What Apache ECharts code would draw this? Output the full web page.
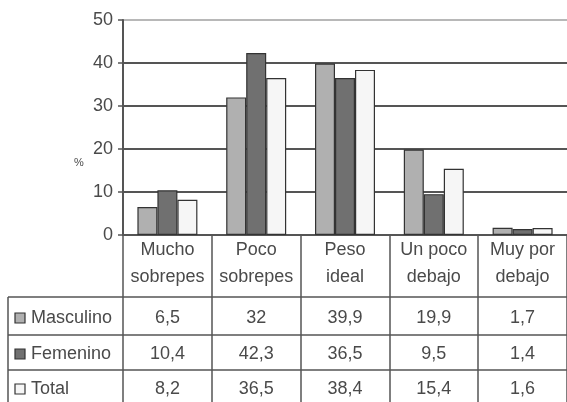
<!DOCTYPE html>
<html>
<head>
<meta charset="utf-8">
<script src="https://cdn.jsdelivr.net/npm/echarts@6/dist/echarts.min.js"></script>
<style>
  html, body { margin: 0; padding: 0; background: #fff; }
  #chart { width: 567px; height: 402px; }
</style>
</head>
<body>
<div id="chart"></div>
<script>
/* ---------- datos ---------- */
const categories = ['Mucho\nsobrepes', 'Poco\nsobrepes', 'Peso\nideal', 'Un poco\ndebajo', 'Muy por\ndebajo'];
const seriesNames = ['Masculino', 'Femenino', 'Total'];
const masculino = [6.5, 32, 39.9, 19.9, 1.7];
const femenino = [10.4, 42.3, 36.5, 9.5, 1.4];
const total = [8.2, 36.5, 38.4, 15.4, 1.6];
const yTicks = [0, 10, 20, 30, 40, 50];

/* ---------- estilo ---------- */
const COLORS = ['#b0b0b0', '#707070', '#f6f6f6'];
const FONT = 'Liberation Sans, Arial, sans-serif';
const TEXT = '#4a4a4a';
const LINE = '#555';

const chart = echarts.init(document.getElementById('chart'), null, { renderer: 'canvas' });

function barSeries(name, data, i) {
  return {
    name,
    type: 'bar',
    data,
    barWidth: 20,
    barGap: '0%',
    itemStyle: { color: COLORS[i], borderColor: '#333', borderWidth: 1.2 },
  };
}

chart.setOption({
  animation: false,
  grid: { left: 123, right: -6, top: 20, bottom: 167 },
  xAxis: {
    type: 'category',
    data: categories,
    axisLine: { lineStyle: { color: LINE, width: 2 } },
    axisTick: { show: true, interval: 0, length: 170, lineStyle: { color: LINE, width: 1.5 } },
    axisLabel: {
      interval: 0, hideOverlap: false,
      color: TEXT, fontFamily: FONT, fontSize: 18, lineHeight: 27, margin: 2,
    },
  },
  yAxis: {
    type: 'value',
    min: yTicks[0],
    max: yTicks[yTicks.length - 1],
    interval: 10,
    axisLine: { show: true, lineStyle: { color: LINE, width: 2 } },
    axisTick: { show: true, length: 5, lineStyle: { color: LINE, width: 1.5 } },
    axisLabel: { color: TEXT, fontFamily: FONT, fontSize: 18, margin: 10 },
    splitLine: {
      lineStyle: { color: [LINE, LINE, LINE, LINE, LINE, '#b8b8b8'], width: 2 },
    },
  },
  series: [
    barSeries(seriesNames[0], masculino, 0),
    barSeries(seriesNames[1], femenino, 1),
    barSeries(seriesNames[2], total, 2),
  ],
});

/* ---------- tabla de datos ---------- */
const rows = [masculino, femenino, total];
const rowLines = [297, 335, 370];
const rowCenters = [318, 354, 389];
const graphic = [];

graphic.push({
  type: 'text', left: 74, top: 157,
  style: { text: '%', fill: TEXT, font: '11px ' + FONT },
});

rowLines.forEach((y) => {
  graphic.push({
    type: 'line',
    shape: { x1: 8, y1: y, x2: 567, y2: y },
    style: { stroke: LINE, lineWidth: 1.5 },
  });
});
graphic.push({
  type: 'line',
  shape: { x1: 8, y1: rowLines[0], x2: 8, y2: 402 },
  style: { stroke: LINE, lineWidth: 1.5 },
});

rows.forEach((vals, r) => {
  const cy = rowCenters[r];
  graphic.push({
    type: 'rect',
    shape: { x: 15, y: cy - 5, width: 10, height: 10 },
    style: { fill: COLORS[r], stroke: '#333', lineWidth: 1.2 },
  });
  graphic.push({
    type: 'text', x: 31, y: cy,
    style: { text: seriesNames[r], fill: TEXT, font: '18px ' + FONT, verticalAlign: 'middle' },
  });
  vals.forEach((v, i) => {
    const cx = chart.convertToPixel({ xAxisIndex: 0 }, i);
    graphic.push({
      type: 'text', x: cx, y: cy,
      style: {
        text: String(v).replace('.', ','),
        fill: TEXT, font: '18px ' + FONT,
        align: 'center', verticalAlign: 'middle',
      },
    });
  });
});

chart.setOption({ graphic });
</script>
</body>
</html>
